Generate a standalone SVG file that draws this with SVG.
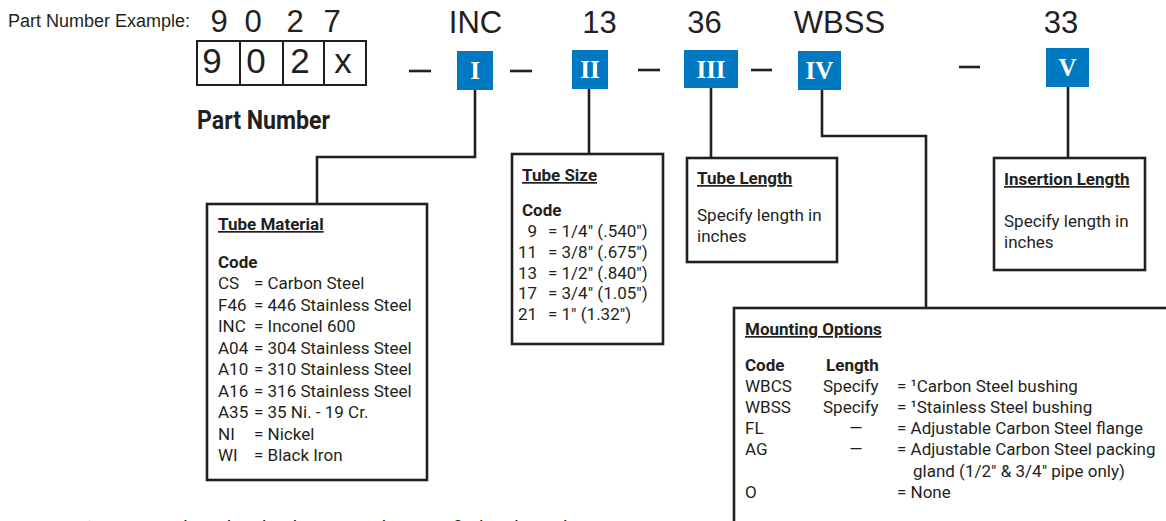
<svg xmlns="http://www.w3.org/2000/svg" width="1166" height="521" viewBox="0 0 1166 521">
<style>
.big{font-family:"Liberation Sans",Arial,sans-serif;fill:#231f20;text-anchor:middle}
.t{font-family:Roboto,"Liberation Sans",sans-serif;font-size:17px;fill:#231f20}
.b{font-weight:bold}
.u{font-weight:bold;text-decoration:underline}
.box{fill:#fff;stroke:#231f20;stroke-width:2.6}
.blue{fill:#0079c2}
.rn{font-family:"Liberation Serif","Times New Roman",serif;font-weight:bold;font-size:25px;fill:#fff;text-anchor:middle}
.ln{fill:none;stroke:#231f20;stroke-width:2.6}
.dash{stroke:#231f20;stroke-width:2.6}
</style>
<rect width="1166" height="521" fill="#fff"/>
<g id="header">
<text x="8" y="27" style="font-family:'Liberation Sans',Arial,sans-serif;font-size:18px;fill:#231f20">Part Number Example:</text>
<text class="big" x="219" y="32" font-size="31">9</text>
<text class="big" x="253" y="32" font-size="31">0</text>
<text class="big" x="295" y="32" font-size="31">2</text>
<text class="big" x="332" y="32" font-size="31">7</text>
<text class="big" x="475.5" y="33" font-size="31">INC</text>
<text class="big" x="599.5" y="33" font-size="31">13</text>
<text class="big" x="704.5" y="33" font-size="31">36</text>
<text class="big" x="839.5" y="33" font-size="31">WBSS</text>
<text class="big" x="1061" y="33" font-size="31">33</text>
</g>
<g id="part-number">
<rect x="197" y="41" width="169" height="44" fill="none" stroke="#231f20" stroke-width="2"/>
<line x1="240" y1="41" x2="240" y2="85" stroke="#231f20" stroke-width="2"/>
<line x1="283" y1="41" x2="283" y2="85" stroke="#231f20" stroke-width="2"/>
<line x1="324" y1="41" x2="324" y2="85" stroke="#231f20" stroke-width="2"/>
<text class="big" x="212" y="73" font-size="35">9</text>
<text class="big" x="256" y="73" font-size="35">0</text>
<text class="big" x="300" y="73" font-size="35">2</text>
<text class="big" x="343" y="73" font-size="35">x</text>
<text x="197" y="129" textLength="133" lengthAdjust="spacingAndGlyphs" style="font-family:Roboto,'Liberation Sans',sans-serif;font-weight:bold;font-size:25px;fill:#231f20">Part Number</text>
</g>
<g id="dashes">
<line class="dash" x1="409" y1="71" x2="431" y2="71"/>
<line class="dash" x1="510" y1="71" x2="532" y2="71"/>
<line class="dash" x1="638" y1="70" x2="660" y2="70"/>
<line class="dash" x1="751" y1="70" x2="772" y2="70"/>
<line class="dash" x1="959" y1="67" x2="980" y2="67"/>
</g>
<g id="connectors">
<path class="ln" d="M475 90 V157 H317 V204"/>
<path class="ln" d="M589 89 V154"/>
<path class="ln" d="M711 88 V158"/>
<path class="ln" d="M822 90 V136 H926 V308"/>
<path class="ln" d="M1068 87 V158"/>
</g>
<g id="code-I">
<rect class="blue" x="457" y="51" width="36" height="39"/>
<text class="rn" x="475" y="79">I</text>
</g>
<g id="code-II">
<rect class="blue" x="572" y="50" width="36" height="39"/>
<text class="rn" x="590" y="78">II</text>
</g>
<g id="code-III">
<rect class="blue" x="684" y="50" width="54" height="38"/>
<text class="rn" x="711" y="78">III</text>
</g>
<g id="code-IV">
<rect class="blue" x="798" y="51" width="43" height="39"/>
<text class="rn" x="819.5" y="79">IV</text>
</g>
<g id="code-V">
<rect class="blue" x="1046" y="48" width="43" height="39"/>
<text class="rn" x="1067.5" y="76">V</text>
</g>
<g id="tube-material">
<rect class="box" x="207" y="204" width="220" height="276"/>
<text class="t u" x="218" y="230">Tube Material</text>
<text class="t b" x="218" y="267.5">Code</text>
<g class="t">
<text x="218" y="289">CS</text><text x="254" y="289">= Carbon Steel</text>
<text x="218" y="310.5">F46</text><text x="254" y="310.5">= 446 Stainless Steel</text>
<text x="218" y="332">INC</text><text x="254" y="332">= Inconel 600</text>
<text x="218" y="353.5">A04</text><text x="254" y="353.5">= 304 Stainless Steel</text>
<text x="218" y="375">A10</text><text x="254" y="375">= 310 Stainless Steel</text>
<text x="218" y="396.5">A16</text><text x="254" y="396.5">= 316 Stainless Steel</text>
<text x="218" y="418">A35</text><text x="254" y="418">= 35 Ni. - 19 Cr.</text>
<text x="218" y="439.5">NI</text><text x="254" y="439.5">= Nickel</text>
<text x="218" y="461">WI</text><text x="254" y="461">= Black Iron</text>
</g>
</g>
<g id="tube-size">
<rect class="box" x="512" y="154" width="151" height="190"/>
<text class="t u" x="522" y="181">Tube Size</text>
<text class="t b" x="522" y="216">Code</text>
<g class="t">
<text x="537" y="237" text-anchor="end">9</text><text x="548" y="237">= 1/4″ (.540")</text>
<text x="537" y="258" text-anchor="end">11</text><text x="548" y="258">= 3/8″ (.675")</text>
<text x="537" y="278.5" text-anchor="end">13</text><text x="548" y="278.5">= 1/2″ (.840")</text>
<text x="537" y="299" text-anchor="end">17</text><text x="548" y="299">= 3/4″ (1.05")</text>
<text x="537" y="320" text-anchor="end">21</text><text x="548" y="320">= 1″ (1.32")</text>
</g>
</g>
<g id="tube-length">
<rect class="box" x="687" y="158" width="150" height="104"/>
<text class="t u" x="697" y="184">Tube Length</text>
<text class="t" x="697" y="221">Specify length in</text>
<text class="t" x="697" y="242">inches</text>
</g>
<g id="insertion-length">
<rect class="box" x="994" y="158" width="151" height="112"/>
<text class="t u" x="1004" y="185">Insertion Length</text>
<text class="t" x="1004" y="227">Specify length in</text>
<text class="t" x="1004" y="248">inches</text>
</g>
<g id="mounting-options">
<rect class="box" x="734" y="308" width="460" height="250"/>
<text class="t u" x="745" y="335">Mounting Options</text>
<text class="t b" x="745" y="371">Code</text>
<text class="t b" x="826" y="371">Length</text>
<g class="t">
<text x="745" y="392">WBCS</text><text x="823" y="392">Specify</text><text x="897" y="392">= ¹Carbon Steel bushing</text>
<text x="745" y="413">WBSS</text><text x="823" y="413">Specify</text><text x="897" y="413">= ¹Stainless Steel bushing</text>
<text x="745" y="434">FL</text><text x="856" y="434" text-anchor="middle">—</text><text x="897" y="434">= Adjustable Carbon Steel flange</text>
<text x="745" y="455">AG</text><text x="856" y="455" text-anchor="middle">—</text><text x="897" y="455">= Adjustable Carbon Steel packing</text>
<text x="913" y="476.5">gland (1/2″ &amp; 3/4″ pipe only)</text>
<text x="745" y="498">O</text><text x="897" y="498">= None</text>
</g>
</g>
<g id="footnote">
<text x="85" y="534" style="font-family:Roboto,'Liberation Sans',sans-serif;font-size:19px;fill:#231f20">¹Mounting thread on bushing must be specified in the order</text>
</g>
</svg>
